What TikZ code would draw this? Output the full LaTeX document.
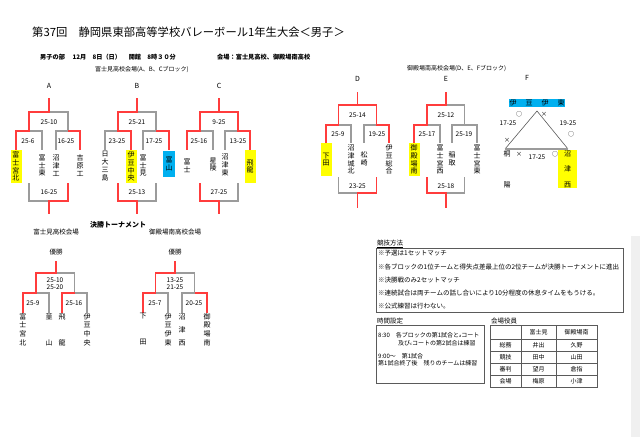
\documentclass[tikz,border=0pt]{standalone}
\usepackage{fontspec}
\setmainfont{Noto Sans CJK JP}
\usetikzlibrary{positioning}
\definecolor{colorwin}{RGB}{255,60,60}
\definecolor{colorlose}{RGB}{155,155,155}
\definecolor{colorfirst}{RGB}{255,255,0}
\definecolor{colorsecond}{RGB}{0,176,240}
\definecolor{colorframe}{RGB}{90,90,90}
\tikzstyle{win}=[draw=colorwin, line width=1.2pt]
\tikzstyle{lose}=[draw=colorlose, line width=1.2pt]
\tikzstyle{blocklabel}=[inner sep=0pt, font=\fontsize{7}{8}\selectfont]
\tikzstyle{team}=[inner sep=0pt, align=center, font=\fontsize{7}{7.8}\selectfont]
\tikzstyle{finalteam}=[inner sep=0pt, align=center, font=\fontsize{7}{8.7}\selectfont]
\tikzstyle{score}=[inner sep=0pt, align=center, font=\fontsize{6.5}{7}\selectfont]
\tikzstyle{firstbox}=[fill=colorfirst, minimum width=11pt, minimum height=33pt]
\tikzstyle{secondbox}=[fill=colorsecond, minimum width=12pt, minimum height=26pt]
\tikzstyle{note}=[inner sep=0pt, anchor=west, font=\fontsize{6.5}{7}\selectfont]
\tikzstyle{timenote}=[inner sep=0pt, anchor=west, font=\fontsize{6}{7}\selectfont]
\tikzstyle{head}=[inner sep=0pt, anchor=west, font=\bfseries\fontsize{6.2}{7}\selectfont]
\tikzstyle{frame}=[draw=colorframe, line width=0.8pt]
\tikzstyle{cell}=[inner sep=0pt, font=\fontsize{6}{7}\selectfont]
\tikzstyle{resultmark}=[inner sep=0pt, font=\fontsize{6}{7}\selectfont]
\newcommand{\smallc}[1]{{\fontsize{4}{4}\selectfont #1}}

\begin{document}
\begin{tikzpicture}[x=1pt, y=-1pt]
	\useasboundingbox (0,0) rectangle (640,437);
	\fill[gray!12] (631,236) rectangle (640,437);
	
	\node[inner sep=0pt, anchor=west, font=\fontsize{11.3}{13}\selectfont] at (32,32) (title) {第37回　静岡県東部高等学校バレーボール1年生大会＜男子＞};
	\node[head] at (40,57) (day) {男子の部　 12月　8日（日）　 開館　8時３０分};
	\node[head] at (217,57) (venue) {会場：富士見高校、御殿場南高校};
	\node[note, font=\fontsize{6}{7}\selectfont] at (95,70) (hallabc) {富士見高校会場(A、B、Cブロック)};
	\node[note, font=\fontsize{6}{7}\selectfont] at (407,69) (halldef) {御殿場南高校会場(D、E、Fブロック)};
	
	\node[blocklabel] at (49,86) (lblA) {A};
	\draw[lose] (49,112) -- (68,112) -- (68,131) -- (56,131) -- (56,150);
	\draw[lose] (29,131) -- (42,131) -- (42,150);
	\draw[win] (49,98) -- (49,112) -- (29,112) -- (29,131) -- (16,131) -- (16,150);
	\draw[win] (68,131) -- (80,131) -- (80,150);
	\draw[lose] (29,183) -- (29,201) -- (49,201);
	\draw[win] (68,183) -- (68,201) -- (49,201) -- (49,214);
	\node[score] at (49,122) (sA1) {25-10};
	\node[score] at (28,141) (sA2) {25-6};
	\node[score] at (66,141) (sA3) {16-25};
	\node[score] at (49,192) (sA4) {16-25};
	\node[team, firstbox] at (16,166.5) (a1) {富\\士\\宮\\北};
	\node[team] at (42,165.5) (a2) {富\\士\\東};
	\node[team] at (56,165.5) (a3) {沼\\津\\工};
	\node[team] at (80,165.5) (a4) {吉\\原\\工};
	
	\node[blocklabel] at (137,86) (lblB) {B};
	\draw[lose] (137,112) -- (156,112) -- (156,131) -- (143,131) -- (143,150);
	\draw[lose] (118,131) -- (105,131) -- (105,150);
	\draw[win] (137,98) -- (137,112) -- (118,112) -- (118,131) -- (131,131) -- (131,150);
	\draw[win] (156,131) -- (169,131) -- (169,150);
	\draw[lose] (156,183) -- (156,201) -- (137,201);
	\draw[win] (118,183) -- (118,201) -- (137,201) -- (137,214);
	\node[score] at (137,122) (sB1) {25-21};
	\node[score] at (117,141) (sB2) {23-25};
	\node[score] at (154,141) (sB3) {17-25};
	\node[score] at (137,192) (sB4) {25-13};
	\node[team] at (105,166) (b1) {日\\大\\三\\島};
	\node[team, firstbox] at (131,166.5) (b2) {伊\\豆\\中\\央};
	\node[team] at (143,165.5) (b3) {富\\士\\見};
	\node[team, secondbox] at (169,163.5) (b4) {富\\山};
	
	\node[blocklabel] at (219,86) (lblC) {C};
	\draw[lose] (238,131) -- (225,131) -- (225,150);
	\draw[lose] (200,131) -- (213,131) -- (213,150);
	\draw[win] (219,98) -- (219,112) -- (200,112) -- (200,131) -- (187,131) -- (187,150);
	\draw[win] (219,112) -- (238,112) -- (238,131) -- (250,131) -- (250,150);
	\draw[lose] (238,183) -- (238,201) -- (219,201);
	\draw[win] (200,183) -- (200,201) -- (219,201) -- (219,214);
	\node[score] at (219,122) (sC1) {9-25};
	\node[score] at (199,141) (sC2) {25-16};
	\node[score] at (238,141) (sC3) {13-25};
	\node[score] at (219,192) (sC4) {27-25};
	\node[team] at (187,166) (c1) {富\\士};
	\node[team] at (213,164.5) (c2) {星\\陵};
	\node[team] at (225,165) (c3) {沼\\津\\東};
	\node[team, firstbox] at (250,166.5) (c4) {飛\\龍};
	
	\node[blocklabel] at (357.5,79) (lblD) {D};
	\draw[lose] (338.5,125) -- (351,125) -- (351,143);
	\draw[lose] (376.5,125) -- (364,125) -- (364,143);
	\draw[win] (357.5,92) -- (357.5,105) -- (338.5,105) -- (338.5,125) -- (326,125) -- (326,143);
	\draw[win] (357.5,105) -- (376.5,105) -- (376.5,125) -- (389,125) -- (389,143);
	\draw[lose] (338.5,177) -- (338.5,193) -- (357.5,193);
	\draw[win] (376.5,177) -- (376.5,193) -- (357.5,193) -- (357.5,208);
	\node[score] at (357.5,115) (sD1) {25-14};
	\node[score] at (338,134) (sD2) {25-9};
	\node[score] at (377,134) (sD3) {19-25};
	\node[score] at (357.5,186) (sD4) {23-25};
	\node[team, firstbox] at (326,159.5) (d1) {下\\田};
	\node[team] at (351,159.5) (d2) {沼\\津\\城\\北};
	\node[team] at (364,159) (d3) {松\\崎};
	\node[team] at (389,159.5) (d4) {伊\\豆\\総\\合};
	
	\node[blocklabel] at (446,79) (lblE) {E};
	\draw[lose] (446,105) -- (464.5,105) -- (464.5,125) -- (452,125) -- (452,143);
	\draw[lose] (464.5,125) -- (477,125) -- (477,143);
	\draw[lose] (427,125) -- (440,125) -- (440,143);
	\draw[win] (446,92) -- (446,105) -- (427,105) -- (427,125) -- (414,125) -- (414,143);
	\draw[lose] (464.5,177) -- (464.5,193) -- (446,193);
	\draw[win] (427,177) -- (427,193) -- (446,193) -- (446,208);
	\node[score] at (446,115) (sE1) {25-12};
	\node[score] at (427,134) (sE2) {25-17};
	\node[score] at (464,134) (sE3) {25-19};
	\node[score] at (446,186) (sE4) {25-18};
	\node[team, firstbox] at (414,159.5) (e1) {御\\殿\\場\\南};
	\node[team] at (440,159.5) (e2) {富\\士\\宮\\西};
	\node[team] at (452,159) (e3) {稲\\取};
	\node[team] at (477,159.5) (e4) {富\\士\\宮\\東};
	
	\node[blocklabel] at (527,78) (lblF) {F};
	\node[team, fill=colorsecond, minimum width=56pt, minimum height=8.5pt] at (537,103) (f1) {伊\hspace{9pt}豆\hspace{9pt}伊\hspace{9pt}東};
	\coordinate (ftop) at (537,111);
	\coordinate (fleft) at (505,149);
	\coordinate (fright) at (568,149);
	\draw[colorframe, line width=0.6pt] (fleft) -- (ftop) -- (fright);
	\draw[colorlose, line width=1.2pt] (fleft) -- (fright);
	\node[team] at (507,169.5) (f2) {桐\\[23.2pt]陽};
	\node[team, fill=colorfirst, minimum width=19pt, minimum height=38pt] at (567.5,169) (f3) {沼\\[7.7pt]津\\[7.7pt]西};
	\node[resultmark] at (519,114) (m1) {○};
	\node[resultmark] at (544,114) (m2) {×};
	\node[resultmark] at (571,134) (m3) {○};
	\node[resultmark] at (507,140) (m4) {×};
	\node[resultmark] at (519,154) (m5) {×};
	\node[resultmark] at (555,154) (m6) {○};
	\node[score] at (508,123) (sF1) {17-25};
	\node[score] at (568,123) (sF2) {19-25};
	\node[score] at (537,157) (sF3) {17-25};
	
	\node[inner sep=0pt, font=\bfseries\fontsize{7}{8}\selectfont] at (118,225) (final) {決勝トーナメント};
	\node[score] at (56,232) (hall1) {富士見高校会場};
	\node[score] at (175,232) (hall2) {御殿場南高校会場};
	\node[score] at (56,252) (champ1) {優勝};
	\node[score] at (175,252) (champ2) {優勝};
	
	\draw[lose] (56,273) -- (74.5,273) -- (74.5,293) -- (87,293) -- (87,313);
	\draw[lose] (36,293) -- (49,293) -- (49,313);
	\draw[win] (56,261) -- (56,273) -- (36,273) -- (36,293) -- (23,293) -- (23,313);
	\draw[win] (74.5,293) -- (62,293) -- (62,313);
	\node[score] at (55,283.5) (sG1) {25-10\\25-20};
	\node[score] at (33,303) (sG2) {25-9};
	\node[score] at (74,303) (sG3) {25-16};
	\node[finalteam] at (23,329.5) (g1) {富\\士\\宮\\北};
	\node[finalteam] at (49,329.5) (g2) {韮\\[17.4pt]山};
	\node[finalteam] at (62,329.5) (g3) {飛\\[17.4pt]龍};
	\node[finalteam] at (87,329.5) (g4) {伊\\豆\\中\\央};
	
	\draw[lose] (175,273) -- (194.5,273) -- (194.5,293) -- (182,293) -- (182,313);
	\draw[lose] (155.5,293) -- (168,293) -- (168,313);
	\draw[win] (175,261) -- (175,273) -- (155.5,273) -- (155.5,293) -- (143,293) -- (143,313);
	\draw[win] (194.5,293) -- (207,293) -- (207,313);
	\node[score] at (175,283.5) (sH1) {13-25\\21-25};
	\node[score] at (155,303) (sH2) {25-7};
	\node[score] at (194,303) (sH3) {20-25};
	\node[finalteam] at (143,329.5) (h1) {下\\[17.4pt]田};
	\node[finalteam] at (168,329.5) (h2) {伊\\豆\\伊\\東};
	\node[finalteam] at (182,329.5) (h3) {沼\\[4.3pt]津\\[4.3pt]西};
	\node[finalteam] at (207,329.5) (h4) {御\\殿\\場\\南};
	
	\node[note] at (377,244) (rulehead) {\underline{競技方法}};
	\draw[frame] (376,248) rectangle (623,312);
	\node[note] at (378,253) (rule1) {※予選は1セットマッチ};
	\node[note] at (378,267) (rule2) {※各ブロックの1位チームと得失点差最上位の2位チームが決勝トーナメントに進出};
	\node[note] at (378,280) (rule3) {※決勝戦のみ2セットマッチ};
	\node[note] at (378,293) (rule4) {※連続試合は両チームの話し合いにより10分程度の休息タイムをもうける。};
	\node[note] at (378,306) (rule5) {※公式練習は行わない。};
	
	\node[note] at (377,322) (timehead) {\underline{時間設定}};
	\draw[frame] (376,325) rectangle (484,383);
	\node[timenote] at (378,335) (time1) {8:30　各ブロックの第1試合と\smallc{a}コート};
	\node[timenote] at (398,343) (time2) {及び\smallc{c}コートの第2試合は練習};
	\node[timenote] at (378,356) (time3) {9:00～　第1試合};
	\node[timenote] at (378,363) (time4) {第1試合終了後　残りのチームは練習};
	
	\node[note] at (491,322) (staffhead) {\underline{会場役員}};
	\draw[frame] (490,325) rectangle (597,387);
	\foreach \y in {339,351,363,375} \draw[frame] (490,\y) -- (597,\y);
	\foreach \x in {521,556} \draw[frame] (\x,325) -- (\x,387);
	\node[cell] at (538.5,332) (t12) {富士見};
	\node[cell] at (576.5,332) (t13) {御殿場南};
	\node[cell] at (505.5,345) (t21) {総務};
	\node[cell] at (538.5,345) (t22) {井出};
	\node[cell] at (576.5,345) (t23) {久野};
	\node[cell] at (505.5,357) (t31) {競技};
	\node[cell] at (538.5,357) (t32) {田中};
	\node[cell] at (576.5,357) (t33) {山田};
	\node[cell] at (505.5,369) (t41) {審判};
	\node[cell] at (538.5,369) (t42) {望月};
	\node[cell] at (576.5,369) (t43) {倉指};
	\node[cell] at (505.5,381) (t51) {会場};
	\node[cell] at (538.5,381) (t52) {梅原};
	\node[cell] at (576.5,381) (t53) {小津};
	
\end{tikzpicture}
\end{document}
